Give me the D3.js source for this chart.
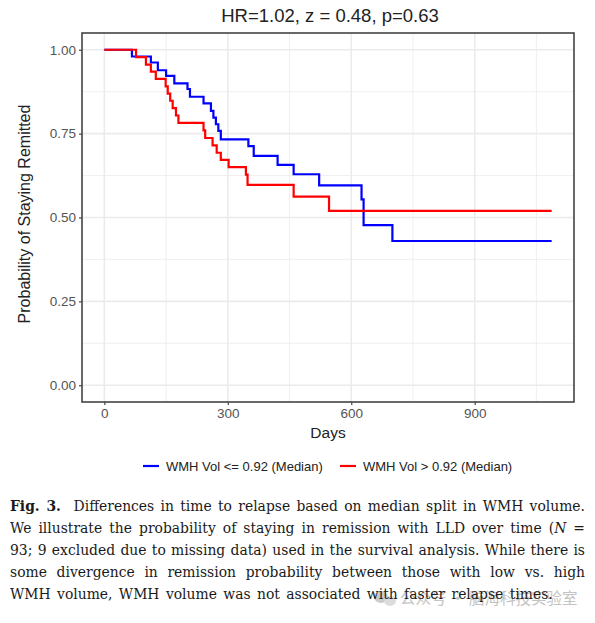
<!DOCTYPE html>
<html>
<head>
<meta charset="utf-8">
<script src="https://cdn.jsdelivr.net/npm/d3@7"></script>
<style>
  body { margin: 0; background: #fff; }
  #wrap { position: relative; width: 595px; height: 623px; overflow: hidden; }
  #caption { position: absolute; left: 10px; top: 495px; width: 575px;
    font-family: "DejaVu Serif", "Liberation Serif", serif; font-size: 13.9px;
    line-height: 22px; color: #1a1a1a; }
  .cl { text-align: justify; text-align-last: justify; white-space: nowrap; }
  .cl.last { text-align-last: left; word-spacing: 2px; }
</style>
</head>
<body>
<div id="wrap"></div>
<script>
// CHART DATA
const titleText = "HR=1.02, z = 0.48, p=0.63";
const groupNames = ["WMH Vol <= 0.92 (Median)", "WMH Vol > 0.92 (Median)"];
const groupColors = ["#0000ff", "#ff0000"];

// step curve for low WMH group (days, survival)
const blueDays = [0, 67, 113, 130, 150, 170, 202, 208, 241, 259, 265, 271, 277, 283, 350, 363, 421, 460, 522, 625, 630, 700, 1087];
const blueSurv = [1, 0.98, 0.962, 0.939, 0.922, 0.9, 0.883, 0.86, 0.84, 0.818, 0.798, 0.778, 0.758, 0.733, 0.713, 0.684, 0.657, 0.629, 0.596, 0.554, 0.477, 0.43, 0.43];

// step curve for high WMH group
const redDays = [0, 77, 101, 113, 125, 149, 154, 160, 166, 174, 180, 241, 245, 263, 273, 283, 302, 344, 348, 460, 546, 1087];
const redSurv = [1, 0.978, 0.956, 0.935, 0.913, 0.891, 0.869, 0.848, 0.826, 0.804, 0.782, 0.76, 0.737, 0.715, 0.693, 0.672, 0.65, 0.628, 0.597, 0.562, 0.52, 0.52];

const xTicks = [0, 300, 600, 900];
const xMinor = [150, 450, 750, 1050];
const yTicks = [0, 0.25, 0.5, 0.75, 1];
const yMinor = [0.125, 0.375, 0.625, 0.875];

const captionLines = [
  "<b>Fig. 3.</b>&nbsp; Differences in time to relapse based on median split in WMH volume.",
  "We illustrate the probability of staying in remission with LLD over time (<i>N</i> =",
  "93; 9 excluded due to missing data) used in the survival analysis. While there is",
  "some divergence in remission probability between those with low vs. high",
  "WMH volume, WMH volume was not associated with faster relapse times."
];

// SIZES
const w = 595;
const h = 623;
const panel = { left: 82, right: 574, top: 33, bottom: 402 };
const sans = "Liberation Sans, Arial, sans-serif";

const svg = d3.select("#wrap").append("svg")
  .attr("width", w).attr("height", h)
  .style("position", "absolute").style("left", 0).style("top", 0);

// SCALES (ggplot style 5% expansion)
const xMax = 1087;
const x = d3.scaleLinear()
  .domain([-0.05 * xMax, 1.05 * xMax])
  .range([panel.left, panel.right]);
const y = d3.scaleLinear()
  .domain([-0.05, 1.05])
  .range([panel.bottom, panel.top]);

// GRID
const grid = svg.append("g");
grid.selectAll(".xmin").data(xMinor).enter().append("line")
  .attr("x1", d => x(d)).attr("x2", d => x(d))
  .attr("y1", panel.top).attr("y2", panel.bottom)
  .attr("stroke", "#ebebeb").attr("stroke-width", 0.8);
grid.selectAll(".ymin").data(yMinor).enter().append("line")
  .attr("y1", d => y(d)).attr("y2", d => y(d))
  .attr("x1", panel.left).attr("x2", panel.right)
  .attr("stroke", "#ebebeb").attr("stroke-width", 0.8);
grid.selectAll(".xmaj").data(xTicks).enter().append("line")
  .attr("x1", d => x(d)).attr("x2", d => x(d))
  .attr("y1", panel.top).attr("y2", panel.bottom)
  .attr("stroke", "#ebebeb").attr("stroke-width", 1.6);
grid.selectAll(".ymaj").data(yTicks).enter().append("line")
  .attr("y1", d => y(d)).attr("y2", d => y(d))
  .attr("x1", panel.left).attr("x2", panel.right)
  .attr("stroke", "#ebebeb").attr("stroke-width", 1.6);

// CURVES
const line = d3.line()
  .x(d => x(d[0]))
  .y(d => y(d[1]))
  .curve(d3.curveStepAfter);

const series = [
  { pts: d3.zip(blueDays, blueSurv), color: groupColors[0] },
  { pts: d3.zip(redDays, redSurv), color: groupColors[1] }
];

svg.selectAll(".km").data(series).enter().append("path")
  .attr("d", d => line(d.pts))
  .attr("fill", "none")
  .attr("stroke", d => d.color)
  .attr("stroke-width", 2.2);

// PANEL BORDER
svg.append("rect")
  .attr("x", panel.left).attr("y", panel.top)
  .attr("width", panel.right - panel.left)
  .attr("height", panel.bottom - panel.top)
  .attr("fill", "none").attr("stroke", "#444").attr("stroke-width", 1.6);

// AXES
const xAxis = d3.axisBottom(x).tickValues(xTicks).tickSize(3).tickPadding(3);
const yAxis = d3.axisLeft(y).tickValues(yTicks).tickSize(3).tickPadding(3)
  .tickFormat(d3.format(".2f"));

const gx = svg.append("g").attr("transform", "translate(0," + panel.bottom + ")").call(xAxis);
const gy = svg.append("g").attr("transform", "translate(" + panel.left + ",0)").call(yAxis);
[gx, gy].forEach(g => {
  g.select(".domain").remove();
  g.selectAll(".tick line").attr("stroke", "#444").attr("stroke-width", 1.2);
  g.selectAll(".tick text")
    .attr("fill", "#555")
    .style("font-family", sans)
    .style("font-size", "13.5px");
});

// TITLE AND AXIS LABELS
svg.append("text")
  .attr("x", 330).attr("y", 22)
  .attr("text-anchor", "middle")
  .style("font-family", sans)
  .style("font-size", "18.5px")
  .attr("fill", "#222")
  .text(titleText);

svg.append("text")
  .attr("x", (panel.left + panel.right) / 2).attr("y", 438)
  .attr("text-anchor", "middle")
  .style("font-family", sans)
  .style("font-size", "15.5px")
  .attr("fill", "#222")
  .text("Days");

svg.append("text")
  .attr("transform", "translate(30," + 214 + ") rotate(-90)")
  .attr("text-anchor", "middle")
  .style("font-family", sans)
  .style("font-size", "16px")
  .attr("fill", "#222")
  .text("Probability of Staying Remitted");

// LEGEND
const legendX = [143, 340];
const legend = svg.selectAll(".leg").data(groupNames).enter().append("g")
  .attr("transform", (d, i) => "translate(" + legendX[i] + ",466)");
legend.append("line")
  .attr("x1", 0).attr("x2", 16)
  .attr("stroke", (d, i) => groupColors[i])
  .attr("stroke-width", 2.2);
legend.append("text")
  .attr("x", 23).attr("y", 4.5)
  .style("font-family", sans)
  .style("font-size", "13px")
  .attr("fill", "#222")
  .text(d => d);

// CAPTION
d3.select("#wrap").append("div").attr("id", "caption")
  .selectAll("div").data(captionLines).enter().append("div")
  .attr("class", (d, i) => i === captionLines.length - 1 ? "cl last" : "cl")
  .html(d => d);

// WATERMARK
const wm = svg.append("g").attr("opacity", 0.5);
wm.append("ellipse").attr("cx", 381).attr("cy", 597).attr("rx", 7).attr("ry", 6).attr("fill", "#999");
wm.append("ellipse").attr("cx", 390).attr("cy", 601).attr("rx", 6).attr("ry", 5).attr("fill", "#bbb");
wm.append("text")
  .attr("x", 400).attr("y", 604)
  .style("font-family", "Noto Sans CJK SC, sans-serif")
  .style("font-size", "15.5px")
  .attr("fill", "#888")
  .text("公众号 · 脑海科技实验室");
</script>
</body>
</html>
